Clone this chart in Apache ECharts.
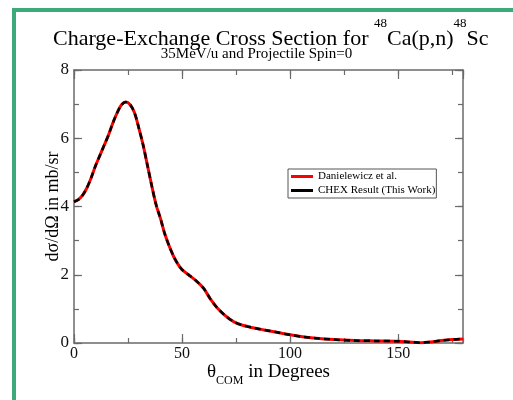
<!DOCTYPE html>
<html>
<head>
<meta charset="utf-8">
<script src="https://cdn.jsdelivr.net/npm/echarts@6/dist/echarts.min.js"></script>
<style>
  html, body { margin: 0; padding: 0; background: #ffffff; }
  #chart { width: 513px; height: 400px; }
</style>
</head>
<body>
<div id="chart"></div>
<script>
// Scattering angle in the centre-of-mass frame (degrees)
const thetaDeg = [0, 2, 4, 6, 8, 10, 12, 14, 16, 18, 20, 22, 24, 26, 28, 30, 32, 34, 36, 38,
  40, 42, 44, 46, 48, 50, 53, 56, 60, 63, 66, 70, 74, 78, 84, 90, 95, 100, 105, 112,
  120, 130, 140, 150, 155, 160, 165, 170, 175, 180];

// dσ/dΩ (mb/sr) — Danielewicz et al.
const danielewicz = [4.14, 4.2, 4.33, 4.55, 4.85, 5.2, 5.5, 5.8, 6.1, 6.45, 6.75, 6.98, 7.06, 6.98, 6.75, 6.3, 5.8, 5.2, 4.6, 4.05,
  3.65, 3.2, 2.85, 2.55, 2.32, 2.15, 2.0, 1.85, 1.6, 1.3, 1.05, 0.8, 0.62, 0.52, 0.43, 0.36, 0.3, 0.24, 0.19, 0.14,
  0.1, 0.07, 0.06, 0.05, 0.03, 0.01, 0.03, 0.07, 0.1, 0.12];

// dσ/dΩ (mb/sr) — CHEX result
const chex = [4.14, 4.2, 4.33, 4.55, 4.85, 5.2, 5.5, 5.8, 6.1, 6.45, 6.75, 6.98, 7.06, 6.98, 6.75, 6.3, 5.8, 5.2, 4.6, 4.05,
  3.65, 3.2, 2.85, 2.55, 2.32, 2.15, 2.0, 1.85, 1.6, 1.3, 1.05, 0.8, 0.62, 0.52, 0.43, 0.36, 0.3, 0.24, 0.19, 0.14,
  0.1, 0.07, 0.06, 0.05, 0.03, 0.01, 0.03, 0.07, 0.1, 0.12];

const seriesNames = ['Danielewicz et al.', 'CHEX Result (This Work)'];

const serif = '"Liberation Serif", "DejaVu Serif", serif';
const axisGray = '#6a6a6a';

const pairs = (ys) => thetaDeg.map((t, i) => [t, ys[i]]);

const chart = echarts.init(document.getElementById('chart'), null, { renderer: 'canvas' });

const tickStyle = { color: axisGray, width: 1.2 };

// Angle axes: major ticks every 50°, minor every 25°, mirrored on top
function xAxisDef(position, interval, tickLen, showLabels, extra) {
  return Object.assign({
    type: 'value', position: position, min: 0, max: 180, interval: interval,
    axisLine: { show: true, onZero: false, lineStyle: { color: axisGray, width: 1.5 } },
    axisTick: { show: true, inside: true, length: tickLen, lineStyle: tickStyle },
    axisLabel: { show: showLabels, showMaxLabel: false, fontFamily: serif, fontSize: 16, color: '#111', margin: 3 },
    splitLine: { show: false }
  }, extra || {});
}

// Cross-section axes: major ticks every 2, minor every 1, mirrored on the right
function yAxisDef(position, interval, tickLen, showLabels, extra) {
  return Object.assign({
    type: 'value', position: position, min: 0, max: 8, interval: interval,
    axisLine: { show: true, onZero: false, lineStyle: { color: axisGray, width: 1.5 } },
    axisTick: { show: true, inside: true, length: tickLen, lineStyle: tickStyle },
    axisLabel: { show: showLabels, fontFamily: serif, fontSize: 17, color: '#111', margin: 5 },
    splitLine: { show: false }
  }, extra || {});
}

chart.setOption({
  backgroundColor: '#ffffff',
  animation: false,
  title: [
    {
      left: 48, top: 12,
      text: '{a|Charge-Exchange Cross Section for }{s|48}{a|Ca(p,n)}{s|48}{a|Sc}',
      textStyle: {
        fontWeight: 'normal',
        rich: {
          a: { fontFamily: serif, fontSize: 22, fontWeight: 'normal', color: '#000', lineHeight: 33, verticalAlign: 'bottom' },
          s: { fontFamily: serif, fontSize: 13, fontWeight: 'normal', color: '#000', lineHeight: 17, verticalAlign: 'top' }
        }
      }
    },
    {
      left: 'center', top: 42,
      text: '35MeV/u and Projectile Spin=0',
      textStyle: { fontFamily: serif, fontSize: 15, fontWeight: 'normal', color: '#000' }
    }
  ],
  legend: {
    orient: 'vertical', left: 288, top: 169,
    data: seriesNames,
    icon: 'rect', itemWidth: 22, itemHeight: 3, itemGap: 3,
    padding: [2, 1, 2, 3],
    borderColor: '#555', borderWidth: 1, borderRadius: 0,
    textStyle: { fontFamily: serif, fontSize: 11, color: '#000' }
  },
  grid: { left: 74, top: 70, right: 50, bottom: 57 },
  xAxis: [
    xAxisDef('bottom', 50, 9, true, {
      name: '{t|θ}{sub|COM}{t| in Degrees}',
      nameLocation: 'middle', nameGap: 20, nameMoveOverlap: false,
      nameTextStyle: {
        rich: {
          t: { fontFamily: serif, fontSize: 19, color: '#000', lineHeight: 24, verticalAlign: 'top' },
          sub: { fontFamily: serif, fontSize: 12, color: '#000', lineHeight: 24, verticalAlign: 'bottom' }
        }
      }
    }),
    xAxisDef('bottom', 25, 5, false, { axisLine: { show: false, onZero: false } }),
    xAxisDef('top', 50, 9, false),
    xAxisDef('top', 25, 5, false, { axisLine: { show: false, onZero: false } })
  ],
  yAxis: [
    yAxisDef('left', 2, 8, true, {
      name: 'dσ/dΩ in mb/sr',
      nameLocation: 'middle', nameGap: 12, nameRotate: 90, nameMoveOverlap: false,
      nameTextStyle: { fontFamily: serif, fontSize: 18, color: '#000' }
    }),
    yAxisDef('left', 1, 5, false, { axisLine: { show: false, onZero: false } }),
    yAxisDef('right', 2, 8, false),
    yAxisDef('right', 1, 5, false, { axisLine: { show: false, onZero: false } })
  ],
  graphic: [
    {
      type: 'rect', silent: true, z: 100,
      shape: { x: 14, y: 10, width: 600, height: 500 },
      style: { fill: 'none', stroke: '#3cab79', lineWidth: 4 }
    }
  ],
  series: [
    {
      name: seriesNames[0], type: 'line', xAxisIndex: 0, yAxisIndex: 0,
      data: pairs(danielewicz), smooth: 0.3, showSymbol: false, symbol: 'none',
      itemStyle: { color: '#ff0000' },
      lineStyle: { color: '#ff0000', width: 3 }, z: 2
    },
    {
      name: seriesNames[1], type: 'line', xAxisIndex: 0, yAxisIndex: 0,
      data: pairs(chex), smooth: 0.3, showSymbol: false, symbol: 'none',
      itemStyle: { color: '#000000' },
      lineStyle: { color: '#000000', width: 2.5, type: [6, 4] }, z: 3
    }
  ]
});
</script>
</body>
</html>
